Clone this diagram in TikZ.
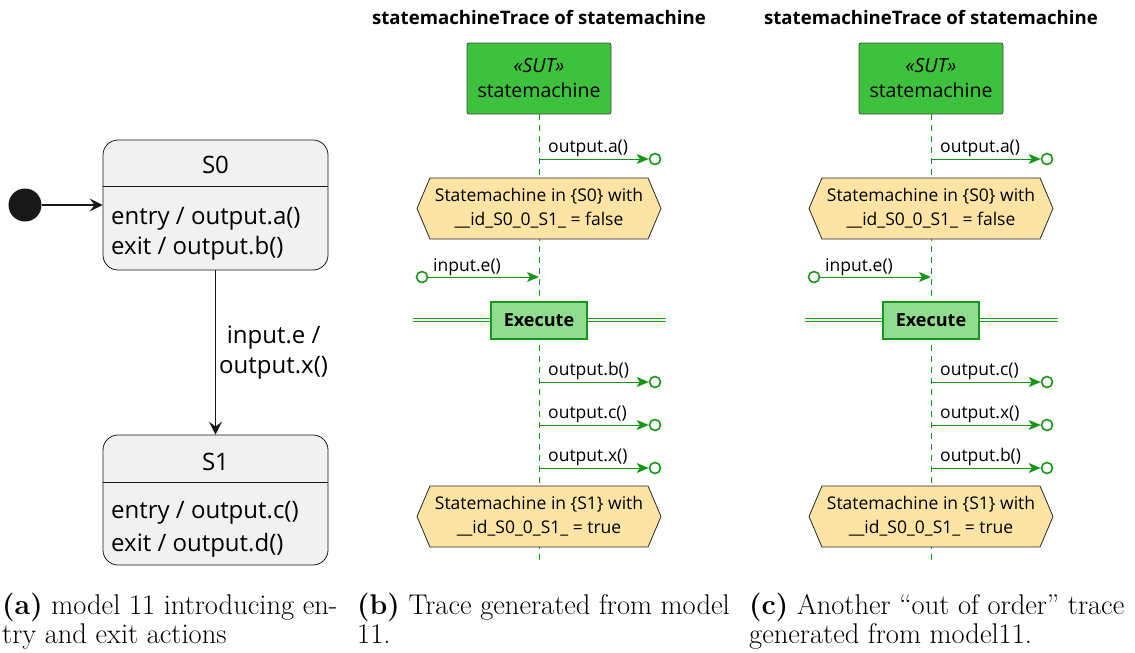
\documentclass[tikz,border=0pt]{standalone}
\usepackage{fontspec}
\newfontfamily\umlfont{Open Sans}
\usetikzlibrary{arrows.meta,positioning,shapes.symbols}

\definecolor{stategray}{RGB}{241, 241, 241}
\definecolor{stateline}{RGB}{24, 24, 24}
\definecolor{seqgreen}{RGB}{22, 150, 22}
\definecolor{sutgreen}{RGB}{62, 194, 62}
\definecolor{execfill}{RGB}{144, 220, 144}
\definecolor{notefill}{RGB}{254, 228, 164}
\definecolor{noteline}{RGB}{40, 40, 40}

\tikzset{
  statebox/.style={draw=stateline, fill=stategray, rounded corners=15pt, minimum width=225pt, minimum height=130pt, line width=0.8pt},
  statetext/.style={font=\umlfont\fontsize{24}{30}\selectfont, inner sep=0pt},
  transarrow/.style={draw=stateline, line width=1.4pt, -{Stealth[length=13pt, width=13pt, inset=5pt]}},
  titletext/.style={font=\umlfont\bfseries\fontsize{18.6}{20}\selectfont, inner sep=0pt},
  sutbox/.style={draw=stateline!80, fill=sutgreen, rounded corners=2pt, minimum width=144pt, minimum height=71pt, align=center, font=\umlfont\fontsize{19.5}{25}\selectfont, line width=0.8pt},
  lifeline/.style={draw=seqgreen, dash pattern=on 6pt off 5pt, line width=0.8pt},
  msgline/.style={draw=seqgreen, line width=1pt, -{Stealth[length=12pt, width=10pt, inset=3pt]}},
  msgtext/.style={font=\umlfont\fontsize{17.5}{20}\selectfont, inner sep=0pt, anchor=base west},
  portend/.style={circle, draw=seqgreen, line width=1.6pt, minimum size=11pt, inner sep=0pt},
  notebox/.style={signal, signal to=west and east, signal pointer angle=134, draw=noteline, fill=notefill, minimum width=244pt, minimum height=61pt, align=center, font=\umlfont\fontsize{17.5}{24}\selectfont, line width=0.8pt, inner sep=0pt},
  execline/.style={draw=seqgreen, double=white, double distance=2pt, line width=1.1pt},
  execbox/.style={draw=seqgreen, fill=execfill, line width=2pt, minimum width=96pt, minimum height=37pt, font=\umlfont\bfseries\fontsize{18}{20}\selectfont},
  captext/.style={anchor=base west, inner sep=0pt, font=\fontsize{28.5}{29}\selectfont}
}

\begin{document}
\begin{tikzpicture}[x=1pt, y=-1pt, >=Stealth]

\useasboundingbox (0,0) rectangle (1135,653);

% State machine (a)
\node[circle, fill=stateline, minimum size=33pt, inner sep=0pt] (init) at (25,205) {};
\node[statebox] (s0) at (215.5,205) {};
\node[statetext] (s0name) at (215.5,165) {S0};
\draw[stateline, line width=0.8pt] (s0.north west) ++(0,47) -- ++(225,0);
\node[statetext, anchor=base west] (s0entry) at (111,224) {entry / output.a()};
\node[statetext, anchor=base west] (s0exit) at (111,254) {exit / output.b()};

\node[statebox] (s1) at (215.5,500) {};
\node[statetext] (s1name) at (215.5,462) {S1};
\draw[stateline, line width=0.8pt] (s1.north west) ++(0,48) -- ++(225,0);
\node[statetext, anchor=base west] (s1entry) at (111,518) {entry / output.c()};
\node[statetext, anchor=base west] (s1exit) at (111,551) {exit / output.d()};

\draw[transarrow] (init.east) -- (s0.west |- init.east);
\draw[transarrow] (s0.south) -- node[right=3pt, statetext, align=center]{input.e /\\output.x()} (s1.north);

% Trace (b)
\node[titletext] (titleB) at (539,17) {statemachineTrace of statemachine};
\node[sutbox] (sutB) at (539,78.5) {\itshape«SUT»\\statemachine};
\coordinate (lifeBend) at (539,565);
\draw[lifeline] (sutB.south) -- (lifeBend);

\coordinate (bA) at (539,159);
\node[portend] (bAend) at (655,159) {};
\draw[msgline] (bA) -- (bAend.west);
\node[msgtext] (bAtext) at (548,152) {output.a()};

\node[notebox] (bNote0) at (539,208.5) {Statemachine in \{S0\} with\\\_\_id\_S0\_0\_S1\_ = false};

\node[portend] (bEstart) at (422,277) {};
\coordinate (bE) at (539,277);
\draw[msgline] (bEstart.east) -- (bE);
\node[msgtext] (bEtext) at (433,271) {input.e()};

\coordinate (bExleft) at (413,320);
\coordinate (bExright) at (666,320);
\draw[execline] (bExleft) -- (bExright);
\node[execbox] (bExec) at (539,320) {Execute};

\coordinate (bB) at (539,382);
\node[portend] (bBend) at (655,382) {};
\draw[msgline] (bB) -- (bBend.west);
\node[msgtext] (bBtext) at (548,375) {output.b()};

\coordinate (bC) at (539,425);
\node[portend] (bCend) at (655,425) {};
\draw[msgline] (bC) -- (bCend.west);
\node[msgtext] (bCtext) at (548,418) {output.c()};

\coordinate (bX) at (539,468);
\node[portend] (bXend) at (655,468) {};
\draw[msgline] (bX) -- (bXend.west);
\node[msgtext] (bXtext) at (548,461) {output.x()};

\node[notebox] (bNote1) at (539,516.5) {Statemachine in \{S1\} with\\\_\_id\_S0\_0\_S1\_ = true};

% Trace (c)
\node[titletext] (titleC) at (931,17) {statemachineTrace of statemachine};
\node[sutbox] (sutC) at (931,78.5) {\itshape«SUT»\\statemachine};
\coordinate (lifeCend) at (931,565);
\draw[lifeline] (sutC.south) -- (lifeCend);

\coordinate (cA) at (931,159);
\node[portend] (cAend) at (1047,159) {};
\draw[msgline] (cA) -- (cAend.west);
\node[msgtext] (cAtext) at (940,152) {output.a()};

\node[notebox] (cNote0) at (931,208.5) {Statemachine in \{S0\} with\\\_\_id\_S0\_0\_S1\_ = false};

\node[portend] (cEstart) at (814,277) {};
\coordinate (cE) at (931,277);
\draw[msgline] (cEstart.east) -- (cE);
\node[msgtext] (cEtext) at (825,271) {input.e()};

\coordinate (cExleft) at (805,320);
\coordinate (cExright) at (1058,320);
\draw[execline] (cExleft) -- (cExright);
\node[execbox] (cExec) at (931,320) {Execute};

\coordinate (cC) at (931,382);
\node[portend] (cCend) at (1047,382) {};
\draw[msgline] (cC) -- (cCend.west);
\node[msgtext] (cCtext) at (940,375) {output.c()};

\coordinate (cX) at (931,425);
\node[portend] (cXend) at (1047,425) {};
\draw[msgline] (cX) -- (cXend.west);
\node[msgtext] (cXtext) at (940,418) {output.x()};

\coordinate (cB) at (931,468);
\node[portend] (cBend) at (1047,468) {};
\draw[msgline] (cB) -- (cBend.west);
\node[msgtext] (cBtext) at (940,461) {output.b()};

\node[notebox] (cNote1) at (931,516.5) {Statemachine in \{S1\} with\\\_\_id\_S0\_0\_S1\_ = true};

% Captions
\node[captext] (capA1) at (2,614) {\textbf{(a)} model 11 introducing en-};
\node[captext] (capA2) at (2,643) {try and exit actions};
\node[captext] (capB1) at (357,614) {\textbf{(b)} Trace generated from model};
\node[captext] (capB2) at (357,643) {11.};
\node[captext] (capC1) at (749,614) {\textbf{(c)} Another ``out of order'' trace};
\node[captext] (capC2) at (749,643) {generated from model11.};

\end{tikzpicture}
\end{document}
